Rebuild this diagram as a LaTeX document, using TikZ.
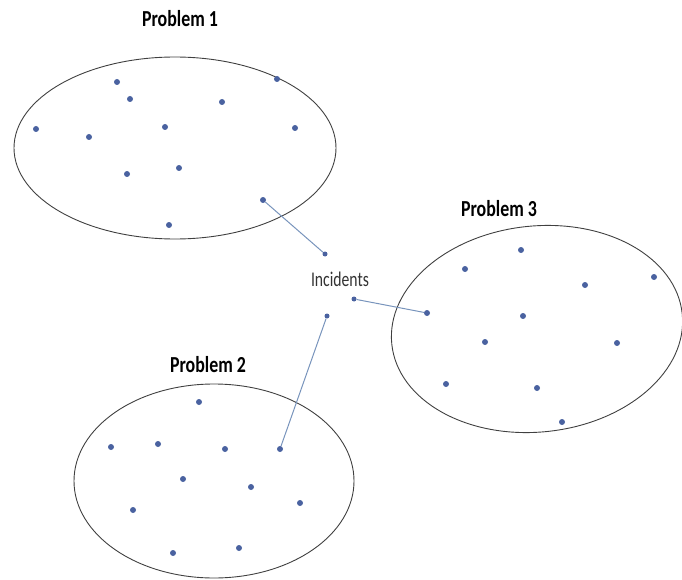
\documentclass[tikz,border=0pt]{standalone}
\usepackage{fontspec}
\setmainfont{Carlito}
\begin{document}
\begin{tikzpicture}[x=1bp,y=-1bp,
  ell/.style={draw=black!75,line width=0.9bp},
  pt/.style={circle,fill=dotblue,inner sep=0pt,minimum size=6bp},
  endpt/.style={circle,fill=dotblue,inner sep=0pt,minimum size=5bp},
  conn/.style={draw=lineblue,line width=1bp},
  title/.style={font=\bfseries\fontsize{23}{25}\selectfont,inner sep=0pt},
  lbl/.style={font=\fontsize{21}{23}\selectfont,text=black!80,inner sep=0pt}]
\definecolor{dotblue}{HTML}{4A62A0}
\definecolor{lineblue}{HTML}{7894BC}
\useasboundingbox (0,0) rectangle (682,580);
% ellipses
\draw[ell] (175,148) ellipse [x radius=161, y radius=91];
\draw[ell] (214,481) ellipse [x radius=140, y radius=97];
\draw[ell,rotate around={6:(537,329)}] (537,329) ellipse [x radius=146, y radius=103];
% titles
\node[title] (t1) at (180,19) {\scalebox{0.78}[1]{Problem 1}};
\node[title] (t3) at (499,209) {\scalebox{0.78}[1]{Problem 3}};
\node[title] (t2) at (208,365) {\scalebox{0.78}[1]{Problem 2}};
\node[lbl] (inc) at (340,279) {\scalebox{0.75}[1]{Incidents}};
% problem 1 dots
\foreach \p/\n in {(117,82)/a1,(130,99)/a2,(277,79)/a3,(222,102)/a4,(36,129)/a5,(89,137)/a6,(165,127)/a7,(295,128)/a8,(127,174)/a9,(179,168)/a10,(263,200)/a11,(169,225)/a12}
  \node[pt] (\n) at \p {};
% problem 3 dots
\foreach \p/\n in {(521,250)/c1,(465,269)/c2,(654,277)/c3,(585,285)/c4,(427,313)/c5,(523,316)/c6,(485,342)/c7,(617,343)/c8,(446,384)/c9,(537,388)/c10,(562,422)/c11}
  \node[pt] (\n) at \p {};
% problem 2 dots
\foreach \p/\n in {(199,402)/b1,(111,447)/b2,(158,444)/b3,(225,449)/b4,(280,449)/b5,(183,479)/b6,(251,487)/b7,(300,503)/b8,(133,510)/b9,(173,553)/b10,(239,548)/b11}
  \node[pt] (\n) at \p {};
% connector end points
\node[endpt] (e1) at (325,254) {};
\node[endpt] (e3) at (354,299) {};
\node[endpt] (e2) at (327,316) {};
\draw[conn] (a11) -- (e1);
\draw[conn] (c5) -- (e3);
\draw[conn] (b5) -- (e2);
\end{tikzpicture}
\end{document}
